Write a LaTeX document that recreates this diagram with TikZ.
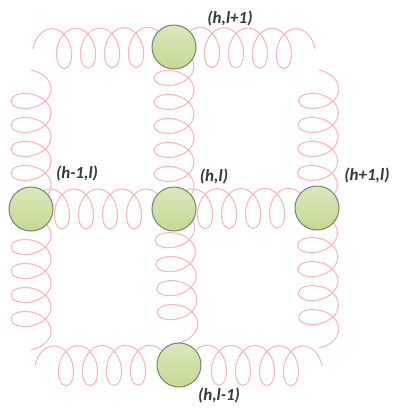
\documentclass[tikz,border=0pt]{standalone}
\usepackage{fontspec}
\setmainfont{Carlito}
\usetikzlibrary{decorations.pathmorphing,backgrounds}
\definecolor{springc}{RGB}{242,186,186}
\definecolor{balltop}{RGB}{218,232,188}
\definecolor{ballbot}{RGB}{196,216,148}
\definecolor{balledge}{RGB}{120,130,105}
\definecolor{labc}{RGB}{55,55,60}
\begin{document}
\begin{tikzpicture}[x=1pt,y=-1pt,
  ball/.style={circle,minimum size=44pt,inner sep=0pt,top color=balltop,bottom color=ballbot,draw=balledge,line width=1pt},
  lab/.style={font=\fontsize{17}{20}\selectfont\bfseries\itshape,text=labc,inner sep=0pt},
  spring/.style={draw=springc,line width=1.1pt,decorate,
    decoration={coil,amplitude=20pt,segment length=24pt,aspect=0.65}},
  rspring/.style={draw=springc,line width=1.1pt,decorate,
    decoration={coil,amplitude=20pt,segment length=24pt,aspect=0.65,mirror}}]
\useasboundingbox (0,0) rectangle (396,408);
% balls
\node[ball] (top) at (174,47) {};
\node[ball] (mid) at (174,209) {};
\node[ball] (lft) at (31,209) {};
\node[ball] (rgt) at (317,208) {};
\node[ball] (bot) at (179,365) {};
% labels
\node[lab] (ltop) at (230,18) {(h,l+1)};
\node[lab] (lmid) at (214,176) {(h,l)};
\node[lab] (llft) at (77,173) {(h-1,l)};
\node[lab] (lrgt) at (367,175) {(h+1,l)};
\node[lab] (lbot) at (219,395) {(h,l-1)};
% corner free ends
\coordinate (tlH) at (33,49);
\coordinate (tlV) at (31,70);
\coordinate (trH) at (315,49);
\coordinate (trV) at (319,70);
\coordinate (blV) at (31,350);
\coordinate (blH) at (35,366);
\coordinate (brV) at (319,348);
\coordinate (brH) at (322,366);
\begin{pgfonlayer}{background}
\draw[spring] (tlH) -- (top.center);
\draw[rspring] (trH) -- (top.center);
\draw[spring] (tlV) -- (lft.center);
\draw[rspring] (blV) -- (lft.center);
\draw[spring] (trV) -- (rgt.center);
\draw[rspring] (brV) -- (rgt.center);
\draw[spring] (blH) -- (bot.center);
\draw[rspring] (brH) -- (bot.center);
\draw[spring] (lft.center) -- (mid.center);
\draw[spring] (mid.center) -- (rgt.center);
\draw[spring] (top.center) -- (mid.center);
\draw[spring] (mid.center) -- (bot.center);
\end{pgfonlayer}
\end{tikzpicture}
\end{document}
